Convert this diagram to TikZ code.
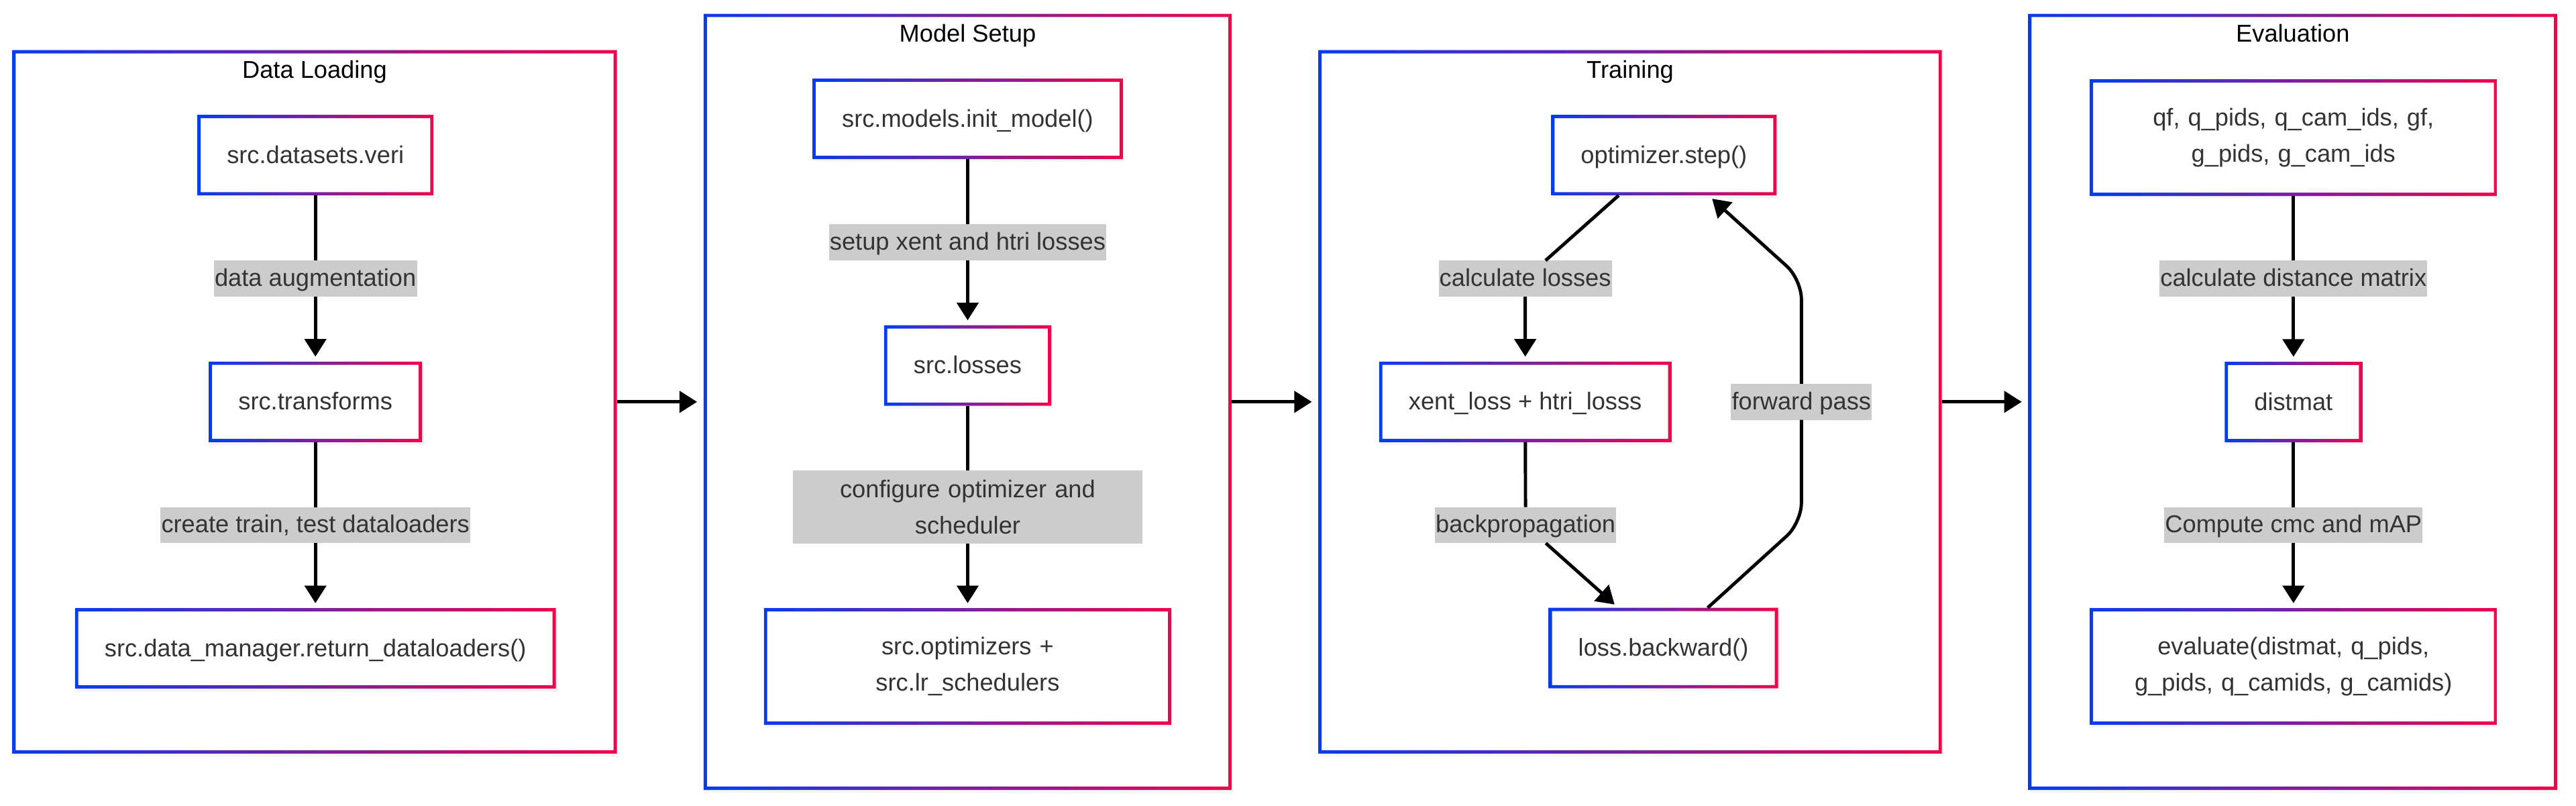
\documentclass[tikz,border=0pt]{standalone}
\usepackage{fontspec}
\setmainfont{Liberation Sans}
\usepackage{tikz}
\usetikzlibrary{positioning,arrows.meta,calc,shadows}

\definecolor{gblue}{RGB}{5,60,240}
\definecolor{gred}{RGB}{240,5,75}
\definecolor{labgray}{RGB}{204,204,204}
\definecolor{txtgray}{RGB}{51,51,51}
\newcommand{\boxfont}{\fontsize{14.8}{22}\selectfont}
% gradient border, blue on the left, red on the right
\newcommand{\gradframe}[1]{%
  \shade[left color=gblue, right color=gred, even odd rule]
    (#1.south west) rectangle (#1.north east)
    ($(#1.south west)+(2pt,2pt)$) rectangle ($(#1.north east)-(2pt,2pt)$);}

\tikzset{
  softshadow/.style={drop shadow={opacity=0.07, shadow xshift=1pt, shadow yshift=-1.8pt}},
  phase/.style={rectangle, fill=white, inner sep=0pt, outer sep=0pt, softshadow},
  phasetitle/.style={inner sep=0pt, font=\boxfont, text=black},
  stage/.style={rectangle, fill=white, inner xsep=18pt, inner ysep=0pt, outer sep=0pt,
    minimum height=49pt, font=\boxfont, text=txtgray, text height=10.8pt, text depth=1pt, softshadow},
  widestage/.style={rectangle, fill=white, inner xsep=18pt, inner ysep=0pt, outer sep=0pt,
    minimum height=71pt, text width=212pt, align=center, font=\boxfont, text=txtgray, softshadow},
  edgelabel/.style={fill=labgray, inner xsep=0.5pt, inner ysep=0pt, outer sep=0pt,
    minimum height=22pt, font=\boxfont, text=txtgray, text height=10.8pt, text depth=1.6pt},
  widelabel/.style={fill=labgray, inner xsep=0.5pt, inner ysep=0pt, outer sep=0pt,
    minimum height=44.4pt, text width=211.7pt, align=center, font=\boxfont, text=txtgray},
  flow/.style={draw=black, line width=2pt, -{Triangle[length=10.7pt,width=13pt]}, shorten >=3pt},
}

\begin{document}
\begin{tikzpicture}[x=1pt,y=-1pt]
    \useasboundingbox (0,0) rectangle (1568,490.4);
    % phases
    \node[phase, minimum width=368pt, minimum height=428pt] (load) at (191.5,244.5) {};
    \node[phase, minimum width=321.4pt, minimum height=472.2pt] (model) at (589,244.5) {};
    \node[phase, minimum width=379.5pt, minimum height=428pt] (train) at (992.25,244.5) {};
    \node[phase, minimum width=322pt, minimum height=472.2pt] (eval) at (1395.6,244.5) {};
    \node[phasetitle, below=6.2pt of load.north] (loadtitle) {Data Loading};
    \node[phasetitle, below=6.2pt of model.north] (modeltitle) {Model Setup};
    \node[phasetitle, below=6.2pt of train.north] (traintitle) {Training};
    \node[phasetitle, below=6.2pt of eval.north] (evaltitle) {Evaluation};

    % data loading
    \node[stage] (veri) at (192,94.4) {src.datasets.veri};
    \node[edgelabel] (augment) at (192,169.5) {data augmentation};
    \node[stage] (transforms) at (192,244.5) {src.transforms};
    \node[edgelabel] (loaders) at (192,319.5) {create train, test dataloaders};
    \node[stage] (datamgr) at (192,394.5) {src.data\_manager.return\_dataloaders()};

    % model setup
    \node[stage] (initmodel) at (589,72.3) {src.models.init\_model()};
    \node[edgelabel] (setup) at (589,147.3) {setup xent and htri losses};
    \node[stage] (losses) at (589,222.4) {src.losses};
    \node[widelabel] (configure) at (589,308.5) {configure optimizer and\\ scheduler};
    \node[widestage] (optim) at (589,405.5) {src.optimizers +\\ src.lr\_schedulers};

    % training
    \node[stage] (optstep) at (1012.8,94.4) {optimizer.step()};
    \node[edgelabel] (calc) at (928.4,169.5) {calculate losses};
    \node[stage] (xent) at (928.4,244.5) {xent\_loss + htri\_losss};
    \node[edgelabel] (forward) at (1096.5,244.5) {forward pass};
    \node[edgelabel] (backprop) at (928.6,319.5) {backpropagation};
    \node[stage] (backward) at (1012.5,394.3) {loss.backward()};
    \coordinate (fwdlow) at (1096.5,318);
    \coordinate (fwdhigh) at (1096.5,170);

    % evaluation
    \node[widestage] (features) at (1396,83.75) {qf, q\_pids, q\_cam\_ids, gf,\\ g\_pids, g\_cam\_ids};
    \node[edgelabel] (distcalc) at (1396,169.5) {calculate distance matrix};
    \node[stage] (distmat) at (1396,244.6) {distmat};
    \node[edgelabel] (cmc) at (1396,319.5) {Compute cmc and mAP};
    \node[widestage] (evaluate) at (1396,405.5) {evaluate(distmat, q\_pids,\\ g\_pids, q\_camids, g\_camids)};

    \foreach \n in {load,model,train,eval,veri,transforms,datamgr,initmodel,losses,optim,
                    optstep,xent,backward,features,distmat,evaluate}
        {\gradframe{\n}}

    % connectors
    \draw[flow] (veri) -- (augment) -- (transforms);
    \draw[flow] (transforms) -- (loaders) -- (datamgr);
    \draw[flow] (initmodel) -- (setup) -- (losses);
    \draw[flow] (losses) -- (configure) -- (optim);
    \draw[flow] (optstep) -- (calc) -- (xent);
    \draw[flow] (xent) -- (backprop) -- (backward);
    \draw[flow, rounded corners=12pt] (backward) -- (fwdlow) -- (forward) -- (fwdhigh) -- (optstep);
    \draw[flow] (features) -- (distcalc) -- (distmat);
    \draw[flow] (distmat) -- (cmc) -- (evaluate);
    \draw[flow, shorten >=4pt] (load) -- (model);
    \draw[flow, shorten >=4pt] (model) -- (train);
    \draw[flow, shorten >=4pt] (train) -- (eval);
\end{tikzpicture}
\end{document}
